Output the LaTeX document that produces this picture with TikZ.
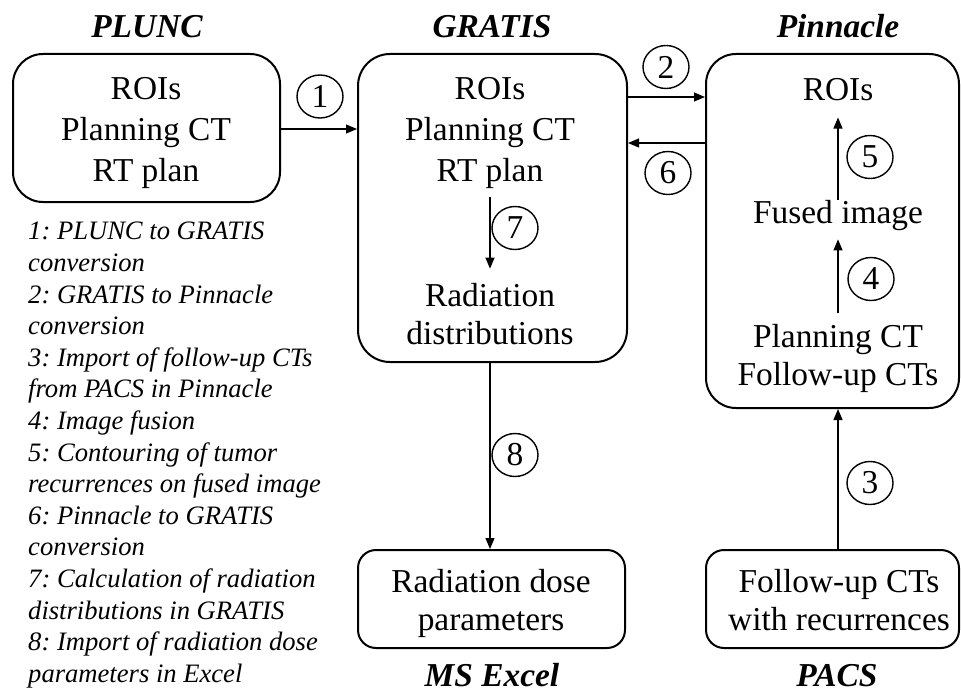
\documentclass[tikz,border=0pt]{standalone}
\usepackage{fontspec}
\setmainfont{Liberation Serif}
\usetikzlibrary{arrows.meta,shapes.geometric,calc}
\frenchspacing
\begin{document}
\begin{tikzpicture}[x=1pt,y=-1pt,
  box/.style={draw, line width=2pt, rounded corners=30pt, inner sep=0pt},
  smallbox/.style={draw, line width=2pt, rounded corners=18pt, inner sep=0pt},
  txt/.style={inner sep=0pt, align=center, font=\fontsize{33.4}{41}\selectfont},
  txtb/.style={inner sep=0pt, align=center, font=\fontsize{33.4}{38}\selectfont},
  ttl/.style={inner sep=0pt, anchor=base, font=\fontsize{33.4}{40}\selectfont\bfseries\itshape},
  num/.style={draw, ellipse, line width=1.4pt, minimum width=46pt, minimum height=43pt, inner sep=0pt, font=\fontsize{33.4}{40}\selectfont},
  arr/.style={line width=1.2pt, -{Triangle[length=11pt,width=9pt]}},
  legend/.style={inner sep=0pt, align=left, anchor=north west, font=\fontsize{26.6}{31.6}\selectfont\itshape\frenchspacing}
]
\useasboundingbox (0,0) rectangle (961,693);

% boxes
\node[box, minimum width=267pt, minimum height=148pt] (plunc) at (146.5,128) {};
\node[box, rounded corners=32pt, minimum width=269pt, minimum height=308pt] (gratis) at (492.5,208) {};
\node[box, minimum width=253pt, minimum height=354pt] (pinn) at (832.5,231) {};
\node[smallbox, minimum width=267pt, minimum height=98pt] (excel) at (491.5,599) {};
\node[smallbox, minimum width=253pt, minimum height=98pt] (pacs) at (832.5,599) {};

% titles
\node[ttl] (tplunc) at (147,38) {PLUNC};
\node[ttl] (tgratis) at (492,38) {GRATIS};
\node[ttl] (tpinn) at (838,38) {Pinnacle};
\node[ttl] (texcel) at (492,686) {MS Excel};
\node[ttl] (tpacs) at (837,686) {PACS};

% box texts
\node[txt] (plunctxt) at (146,133) {ROIs\\Planning CT\\RT plan};
\node[txt] (gtop) at (490,133) {ROIs\\Planning CT\\RT plan};
\node[txtb] (grad) at (490,313.6) {Radiation\\distributions};
\node[txt, anchor=base] (proi) at (838,100) {ROIs};
\node[txt, anchor=base] (pfused) at (838,223) {Fused image};
\node[txtb] (pct) at (838,358) {Planning CT\\Follow-up CTs};
\node[txtb] (exceltxt) at (491,603) {Radiation dose\\parameters};
\node[txtb] (pacstxt) at (839,600) {Follow-up CTs\\with recurrences};

% legend
\node[legend] (leg) at (28,222) {1: PLUNC to GRATIS\\conversion\\2: GRATIS to Pinnacle\\conversion\\3: Import of follow-up CTs\\from PACS in Pinnacle\\4: Image fusion\\5: Contouring of tumor\\recurrences on fused image\\6: Pinnacle to GRATIS\\conversion\\7: Calculation of radiation\\distributions in GRATIS\\8: Import of radiation dose\\parameters in Excel};

% connectors
\coordinate (a1) at (320,129);
\coordinate (a2) at (666,97);
\coordinate (a6) at (666,143);
\draw[arr] (plunc.east |- a1) -- (gratis.west |- a1);
\draw[arr] (gratis.east |- a2) -- (pinn.west |- a2);
\draw[arr] (pinn.west |- a6) -- (gratis.east |- a6);
\draw[arr, shorten <=8pt, shorten >=14pt] (gtop) -- (grad);
\draw[arr] (gratis.south -| grad) -- (excel.north -| grad);
\draw[arr] (pacs.north -| proi) -- (pinn.south -| proi);
\draw[arr, shorten <=11pt, shorten >=9pt] (pct) -- (pfused);
\draw[arr, shorten >=17pt] (pfused) -- (proi);

% step numbers
\node[num] (n1) at (320,96.5) {1};
\node[num] (n2) at (666,67) {2};
\node[num] (n3) at (870,483) {3};
\node[num] (n4) at (871,279) {4};
\node[num] (n5) at (870,157) {5};
\node[num] (n6) at (668,173) {6};
\node[num] (n7) at (515,228) {7};
\node[num] (n8) at (515,455) {8};
\end{tikzpicture}
\end{document}
